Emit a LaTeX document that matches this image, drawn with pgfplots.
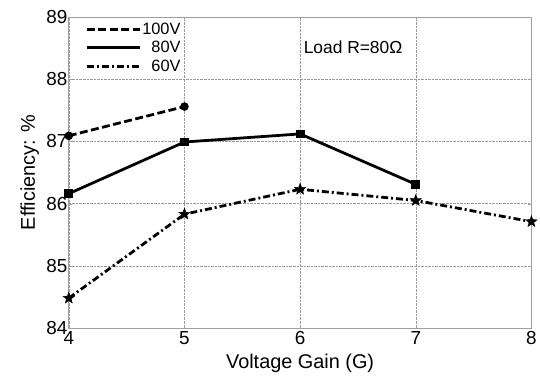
\documentclass[border=0pt]{standalone}
\usepackage{fontspec}
\setmainfont{Liberation Sans}
\usepackage{pgfplots}
\pgfplotsset{compat=1.18}
\pgfdeclareplotmark{fstar}{%
  \pgfpathmoveto{\pgfpointpolar{90}{\pgfplotmarksize}}%
  \pgfpathlineto{\pgfpointpolar{126}{0.42\pgfplotmarksize}}%
  \pgfpathlineto{\pgfpointpolar{162}{\pgfplotmarksize}}%
  \pgfpathlineto{\pgfpointpolar{198}{0.42\pgfplotmarksize}}%
  \pgfpathlineto{\pgfpointpolar{234}{\pgfplotmarksize}}%
  \pgfpathlineto{\pgfpointpolar{270}{0.42\pgfplotmarksize}}%
  \pgfpathlineto{\pgfpointpolar{306}{\pgfplotmarksize}}%
  \pgfpathlineto{\pgfpointpolar{342}{0.42\pgfplotmarksize}}%
  \pgfpathlineto{\pgfpointpolar{18}{\pgfplotmarksize}}%
  \pgfpathlineto{\pgfpointpolar{54}{0.42\pgfplotmarksize}}%
  \pgfpathclose\pgfusepathqfillstroke}
\begin{document}
\begin{tikzpicture}
\begin{axis}[
  scale only axis,
  width=464bp, height=312bp,
  xmin=4, xmax=8, ymin=84, ymax=89,
  xtick={4,5,6,7,8}, ytick={84,85,86,87,88,89},
  grid=major,
  grid style={densely dotted, gray!80, line width=0.5pt},
  axis line style={gray!75, line width=0.8pt},
  tick style={gray!75},
  major tick length=3bp,
  tick align=inside,
  /pgf/number format/assume math mode=true,
  ticklabel style={font=\fontsize{19}{21}\selectfont},
  yticklabel style={xshift=2bp},
  xlabel={Voltage Gain (G)},
  ylabel={Efficiency: \%},
  label style={font=\fontsize{20}{22}\selectfont},
  xlabel style={at={(axis description cs:0.5,-0.1314)}, anchor=base},
  ylabel style={at={(axis description cs:-0.0733,0.5)}, anchor=base},
  legend style={at={(rel axis cs:0.036,0.985)}, anchor=north west, draw=none, fill=none,
    font=\fontsize{16.5}{17}\selectfont, row sep=3.5bp, inner sep=0pt,
    nodes={inner sep=1bp}},
  legend cell align=right,
  legend image code/.code={\draw[#1, mark=none] (0bp,0bp) -- (53bp,0bp);},
]
\addplot[black, line width=2.8pt, dash pattern=on 8pt off 3.5pt, mark=*, mark size=2.8bp, mark options={solid}]
  coordinates {(4,87.09) (5,87.56)};
\addlegendentry{100V}
\addplot[black, line width=2.8pt, mark=square*, mark size=3bp, mark options={solid}]
  coordinates {(4,86.16) (5,86.99) (6,87.12) (7,86.31)};
\addlegendentry{80V}
\addplot[black, line width=2.8pt, dash pattern=on 7pt off 3pt on 2pt off 3pt, mark=fstar, mark size=6bp, mark options={solid, line width=0.4pt}]
  coordinates {(4,84.48) (5,85.83) (6,86.23) (7,86.05) (8,85.71)};
\addlegendentry{60V}
\node[anchor=west, inner sep=0pt, font=\fontsize{17.5}{18}\selectfont] at (axis cs:6.03,88.52) {Load R=80Ω};
\end{axis}
\path (current axis.south west) ++(-69bp,-50bp) rectangle ++(540bp,379bp);
\end{tikzpicture}
\end{document}
